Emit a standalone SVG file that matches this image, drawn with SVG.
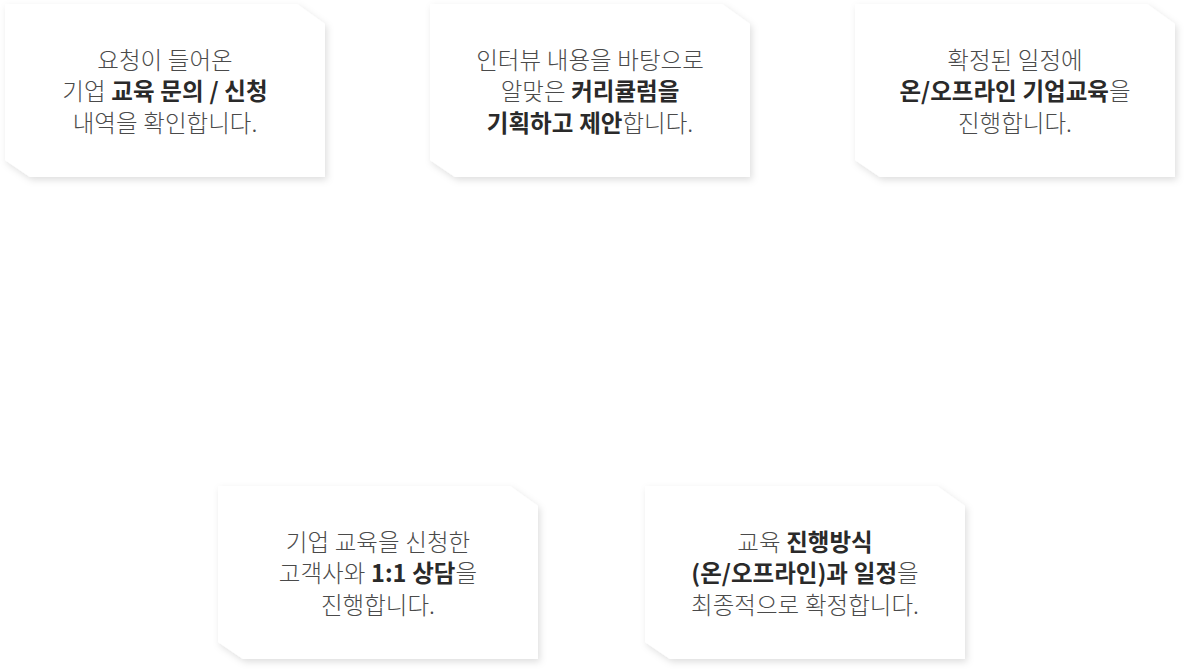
<svg xmlns="http://www.w3.org/2000/svg" width="1186" height="672" viewBox="0 0 1186 672">
<defs>
<filter id="sh" x="-10%" y="-15%" width="125%" height="135%">
<feDropShadow dx="2" dy="3" stdDeviation="3.5" flood-color="#000" flood-opacity="0.13"/>
</filter>
<path id="card" d="M0,0 H292 L320,20 V173 H25 L0,156 Z"/>
</defs>
<style>
text{font-family:"Noto Sans CJK KR","Noto Sans",sans-serif;font-size:23.5px;fill:#4a4a4a;font-weight:300;text-anchor:middle;word-spacing:0.5px}
.b{font-weight:700;fill:#2a2a2a}
.c{fill:#fff;filter:url(#sh)}
</style>
<rect width="1186" height="672" fill="#fff"/>
<g id="connectors"></g>
<g id="node1" transform="translate(5,4)">
<use href="#card" class="c"/>
<text x="160" y="64.5">요청이 들어온</text>
<text x="160" y="96">기업 <tspan class="b">교육 문의 / 신청</tspan></text>
<text x="160" y="127.5">내역을 확인합니다.</text>
</g>
<g id="node2" transform="translate(430,4)">
<use href="#card" class="c"/>
<text x="160" y="64.5">인터뷰 내용을 바탕으로</text>
<text x="160" y="96">알맞은 <tspan class="b">커리큘럼을</tspan></text>
<text x="160" y="127.5"><tspan class="b">기획하고 제안</tspan>합니다.</text>
</g>
<g id="node3" transform="translate(855,4)">
<use href="#card" class="c"/>
<text x="160" y="64.5">확정된 일정에</text>
<text x="160" y="96"><tspan class="b">온/오프라인 기업교육</tspan>을</text>
<text x="160" y="127.5">진행합니다.</text>
</g>
<g id="node4" transform="translate(218,486)">
<use href="#card" class="c"/>
<text x="160" y="64.5">기업 교육을 신청한</text>
<text x="160" y="96">고객사와 <tspan class="b">1:1 상담</tspan>을</text>
<text x="160" y="127.5">진행합니다.</text>
</g>
<g id="node5" transform="translate(645,486)">
<use href="#card" class="c"/>
<text x="160" y="64.5">교육 <tspan class="b">진행방식</tspan></text>
<text x="160" y="96"><tspan class="b">(온/오프라인)과 일정</tspan>을</text>
<text x="160" y="127.5">최종적으로 확정합니다.</text>
</g>
</svg>
